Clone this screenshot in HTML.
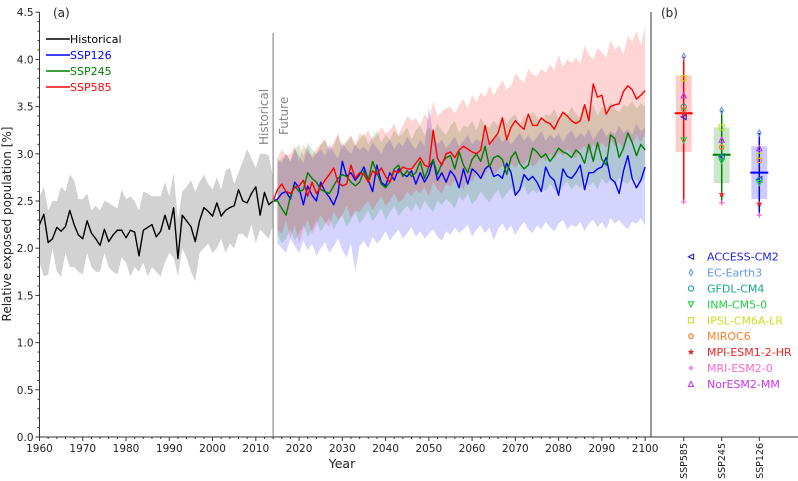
<!DOCTYPE html>
<html><head><meta charset="utf-8">
<style>
html,body{margin:0;padding:0;background:#fff;}
svg{display:block;font-family:"DejaVu Sans","Liberation Sans",sans-serif;}
</style></head>
<body>
<svg id="chart" width="798" height="481" viewBox="0 0 798 481" xmlns="http://www.w3.org/2000/svg">
<g id="gA"></g>
<g id="gB"></g>
</svg>
<script>
// ---------------- data ----------------
const histYears0 = 1960;
const histMean = [2.25,2.36,2.06,2.10,2.22,2.18,2.23,2.40,2.25,2.14,2.10,2.29,2.16,2.10,2.03,2.20,2.07,2.14,2.19,2.19,2.11,2.19,2.17,1.92,2.19,2.22,2.25,2.12,2.18,2.35,2.20,2.43,1.89,2.35,2.29,2.23,2.07,2.29,2.43,2.39,2.34,2.48,2.34,2.40,2.43,2.45,2.62,2.50,2.48,2.58,2.65,2.35,2.59,2.46,2.50];
const histUpper = [2.55,2.65,2.40,2.50,2.50,2.65,2.60,2.78,2.72,2.52,2.52,2.58,2.40,2.45,2.40,2.50,2.48,2.45,2.42,2.62,2.52,2.55,2.50,2.40,2.60,2.58,2.55,2.55,2.55,2.70,2.55,2.80,2.30,2.60,2.65,2.72,2.60,2.70,2.78,2.68,2.62,2.75,2.62,2.82,2.85,2.68,2.80,2.92,3.05,2.95,2.85,3.00,3.00,2.98,2.75];
const histLower = [1.85,1.70,1.72,2.00,1.75,1.70,1.95,1.80,1.80,1.75,1.72,1.95,1.80,1.75,1.75,1.95,1.80,1.75,1.72,1.90,1.85,1.70,1.80,1.75,1.85,1.70,1.80,1.75,1.70,1.85,1.95,1.90,1.70,2.00,1.90,1.75,1.65,1.95,2.00,2.05,1.95,2.00,2.10,1.95,2.05,2.00,2.15,2.15,2.10,2.25,2.05,2.20,2.15,2.10,2.25];

const futYears0 = 2015;
const ssp585Mean = [2.62,2.68,2.60,2.58,2.64,2.66,2.72,2.55,2.70,2.58,2.65,2.72,2.78,2.85,2.70,2.66,2.68,2.88,2.74,2.80,2.78,2.70,2.82,2.78,2.85,2.76,2.70,2.82,2.80,2.86,2.84,2.84,2.90,2.96,2.88,2.86,3.25,2.95,2.88,3.00,3.02,2.96,3.04,3.08,3.05,3.02,3.00,3.04,3.30,3.10,3.16,3.22,3.38,3.15,3.28,3.35,3.30,3.26,3.42,3.30,3.30,3.38,3.34,3.32,3.26,3.36,3.44,3.40,3.35,3.32,3.35,3.52,3.35,3.74,3.60,3.62,3.42,3.50,3.52,3.53,3.66,3.72,3.68,3.58,3.62,3.67];
const ssp585Upper = [2.95,3.05,2.98,3.00,3.08,2.92,3.10,3.02,2.98,3.05,3.10,3.15,3.05,3.12,3.22,3.08,3.14,3.20,3.10,3.22,3.18,3.25,3.15,3.20,3.28,3.22,3.25,3.32,3.20,3.30,3.40,3.35,3.38,3.30,3.42,3.36,3.55,3.40,3.45,3.48,3.50,3.42,3.52,3.58,3.48,3.62,3.55,3.65,3.60,3.72,3.62,3.70,3.78,3.68,3.72,3.85,3.80,3.75,3.90,3.84,3.82,3.90,3.86,3.95,3.88,4.05,3.92,4.00,3.96,4.02,3.95,4.15,4.05,4.00,4.12,4.08,4.02,4.20,4.10,4.15,4.05,4.25,4.18,4.30,4.15,4.35];
const ssp585Lower = [2.20,2.15,2.30,2.10,2.25,2.05,2.20,2.30,2.15,2.25,2.35,2.28,2.22,2.40,2.30,2.35,2.45,2.32,2.40,2.38,2.45,2.50,2.40,2.48,2.55,2.45,2.50,2.58,2.48,2.52,2.60,2.55,2.62,2.58,2.65,2.55,2.70,2.62,2.58,2.68,2.65,2.72,2.68,2.62,2.75,2.70,2.80,2.72,2.78,2.85,2.78,2.82,2.88,2.80,2.90,2.85,2.92,2.88,2.95,2.86,2.90,2.98,2.92,3.00,2.95,3.02,2.98,3.05,3.00,2.95,3.05,3.08,3.00,3.10,3.04,3.12,3.06,3.15,3.08,3.12,3.05,3.18,3.10,3.20,3.12,3.22];

const ssp245Mean = [2.50,2.42,2.35,2.55,2.66,2.60,2.62,2.80,2.74,2.70,2.62,2.60,2.58,2.66,2.74,2.78,2.76,2.70,2.66,2.70,2.82,2.72,2.92,2.80,2.68,2.64,2.70,2.84,2.88,2.76,2.82,2.76,2.80,2.92,2.74,2.86,2.94,2.78,2.90,2.96,2.98,2.84,3.02,2.88,2.80,2.94,3.00,2.92,3.08,2.86,2.96,2.98,2.94,2.78,2.96,3.02,2.90,2.84,2.88,3.06,3.02,2.96,3.00,2.92,2.98,3.06,3.02,3.00,2.96,3.04,3.00,2.90,3.10,2.92,3.12,2.94,2.88,3.20,3.16,2.96,3.06,3.22,3.12,2.98,3.10,3.04];
const ssp245Upper = [2.90,2.95,3.00,2.92,3.05,3.10,2.98,3.12,3.05,3.00,3.10,3.15,3.02,3.08,3.20,3.05,3.12,3.18,3.08,3.15,3.22,3.10,3.18,3.25,3.12,3.20,3.15,3.25,3.18,3.22,3.28,3.15,3.25,3.30,3.20,3.28,3.22,3.32,3.25,3.20,3.30,3.35,3.22,3.30,3.28,3.35,3.25,3.38,3.30,3.28,3.35,3.30,3.40,3.32,3.38,3.42,3.30,3.40,3.35,3.45,3.38,3.32,3.42,3.40,3.48,3.36,3.44,3.40,3.50,3.42,3.38,3.48,3.45,3.52,3.40,3.50,3.46,3.55,3.48,3.44,3.52,3.50,3.56,3.48,3.54,3.50];
const ssp245Lower = [2.15,2.05,2.10,2.20,2.08,2.15,2.25,2.12,2.20,2.30,2.18,2.25,2.32,2.20,2.28,2.35,2.22,2.30,2.38,2.26,2.32,2.40,2.28,2.35,2.42,2.30,2.38,2.45,2.34,2.40,2.45,2.38,2.48,2.40,2.50,2.44,2.38,2.50,2.46,2.52,2.48,2.42,2.55,2.50,2.58,2.46,2.52,2.60,2.54,2.48,2.56,2.62,2.52,2.58,2.64,2.55,2.60,2.66,2.56,2.62,2.58,2.65,2.60,2.68,2.62,2.58,2.66,2.70,2.62,2.68,2.64,2.72,2.66,2.70,2.62,2.74,2.68,2.72,2.66,2.75,2.70,2.68,2.76,2.72,2.70,2.74];

const ssp126Mean = [2.52,2.58,2.60,2.52,2.70,2.64,2.46,2.66,2.56,2.50,2.70,2.60,2.54,2.46,2.58,2.92,2.76,2.80,2.72,2.78,2.86,2.72,2.60,2.88,2.70,2.66,2.80,2.72,2.84,2.78,2.76,2.82,2.68,2.80,2.70,2.78,2.94,2.72,2.80,2.70,2.82,2.76,2.64,2.84,2.68,2.84,2.80,2.74,2.84,2.88,2.76,2.78,2.74,2.90,2.80,2.56,2.62,2.78,2.72,2.76,2.70,2.60,2.86,2.76,2.72,2.56,2.84,2.76,2.74,2.80,2.88,2.62,2.80,2.80,2.84,2.86,2.96,2.74,2.70,2.58,2.82,2.98,2.74,2.64,2.72,2.86];
const ssp126Upper = [2.95,2.90,3.00,2.92,3.05,2.98,2.90,3.08,2.95,3.00,3.05,2.98,3.10,3.02,2.95,3.12,3.05,3.00,3.10,3.04,3.08,3.02,3.12,3.06,3.00,3.10,3.15,3.05,3.12,3.08,3.18,3.10,3.05,3.15,3.08,3.50,3.20,3.10,3.15,3.06,3.12,3.18,3.08,3.14,3.20,3.10,3.16,3.12,3.22,3.08,3.15,3.20,3.12,3.18,3.10,3.16,3.22,3.14,3.20,3.12,3.18,3.24,3.14,3.20,3.16,3.22,3.12,3.20,3.25,3.16,3.22,3.18,3.26,3.15,3.22,3.28,3.18,3.24,3.20,3.30,3.22,3.26,3.20,3.32,3.24,3.28];
const ssp126Lower = [2.05,2.00,1.95,2.10,2.02,1.95,2.08,1.98,2.05,1.92,2.00,2.06,1.95,2.02,2.10,1.98,1.90,2.05,1.75,2.02,2.08,2.00,2.12,2.05,2.10,2.18,2.08,2.14,2.20,2.10,2.16,2.22,2.12,2.18,2.10,2.15,2.20,2.12,2.08,2.18,2.14,2.22,2.16,2.20,2.25,2.12,2.20,2.24,2.16,2.22,2.08,2.20,2.26,2.18,2.24,2.14,2.22,2.28,2.20,2.16,2.24,2.20,2.28,2.22,2.18,2.26,2.30,2.20,2.25,2.22,2.28,2.18,2.26,2.30,2.22,2.28,2.20,2.32,2.26,2.30,2.24,2.20,2.28,2.26,2.32,2.24];

const xTickLabels = [1960,1970,1980,1990,2000,2010,2020,2030,2040,2050,2060,2070,2080,2090,2100];
const yTickLabels = [0.0,0.5,1.0,1.5,2.0,2.5,3.0,3.5,4.0,4.5];

// panel b
const scenarios = ["SSP585","SSP245","SSP126"];
const boxWhiskerLow = [2.49,2.48,2.35];
const boxQ1 = [3.02,2.69,2.52];
const boxMedian = [3.43,2.99,2.80];
const boxQ3 = [3.83,3.28,3.08];
const boxWhiskerHigh = [4.03,3.46,3.22];
const models = ["ACCESS-CM2","EC-Earth3","GFDL-CM4","INM-CM5-0","IPSL-CM6A-LR","MIROC6","MPI-ESM1-2-HR","MRI-ESM2-0","NorESM2-MM"];
const modelSSP585 = [3.39,4.03,3.50,3.14,3.80,3.47,3.42,2.49,3.62];
const modelSSP245 = [2.97,3.46,2.96,2.92,3.28,3.07,2.57,2.48,3.15];
const modelSSP126 = [2.73,3.22,2.72,2.69,2.98,2.93,2.47,2.35,3.06];
</script>
<script>
const NS = "http://www.w3.org/2000/svg";
const gA = document.getElementById('gA');
const gB = document.getElementById('gB');
function mk(parent, tag, attrs, text){
  const e = document.createElementNS(NS, tag);
  for (const k in attrs) e.setAttribute(k, attrs[k]);
  if (text !== undefined) e.textContent = text;
  parent.appendChild(e);
  return e;
}
const X0 = 39.5, XPY = 4.326, Y0 = 437, YPU = 94.4;
const xs = yr => X0 + (yr - 1960) * XPY;
const ys = v => Y0 - v * YPU;

function band(up, lo, yr0, fill, name){
  let d = '';
  up.forEach((v,i)=>{ d += (i? 'L':'M') + xs(yr0+i).toFixed(2) + ',' + ys(v).toFixed(2); });
  for (let i = lo.length-1; i >= 0; i--) d += 'L' + xs(yr0+i).toFixed(2) + ',' + ys(lo[i]).toFixed(2);
  const p = mk(gA, 'path', {d: d+'Z', fill: fill, stroke: 'none'});
  
  
}
function line(vals, yr0, color, name, prefix){
  let pts = prefix ? [prefix] : [];
  vals.forEach((v,i)=> pts.push(xs(yr0+i).toFixed(2)+','+ys(v).toFixed(2)));
  const p = mk(gA, 'polyline', {points: pts.join(' '), fill:'none', stroke:color, 'stroke-width':1.4, 'stroke-linejoin':'round'});
  
  
}
band(histUpper, histLower, histYears0, 'rgba(180,180,180,0.6)', 'historical-band');
band(ssp126Upper, ssp126Lower, futYears0, 'rgba(0,0,255,0.17)', 'ssp126-band');
band(ssp245Upper, ssp245Lower, futYears0, 'rgba(0,128,0,0.17)', 'ssp245-band');
band(ssp585Upper, ssp585Lower, futYears0, 'rgba(255,0,0,0.17)', 'ssp585-band');
const lastHist = xs(histYears0+histMean.length-1).toFixed(2)+','+ys(histMean[histMean.length-1]).toFixed(2);
line(histMean, histYears0, '#000', 'historical-line');
line(ssp126Mean, futYears0, '#0000ff', 'ssp126-line', lastHist);
line(ssp245Mean, futYears0, '#008000', 'ssp245-line', lastHist);
line(ssp585Mean, futYears0, '#ff0000', 'ssp585-line', lastHist);

// divider
const dv = mk(gA,'line',{x1:xs(2014),x2:xs(2014),y1:33,y2:Y0,stroke:'#777','stroke-width':1});


const th = mk(gA,'text',{transform:`translate(${xs(2014)-5},145) rotate(-90)`,'font-size':12,fill:'#888'},'Historical');
 
const tf = mk(gA,'text',{transform:`translate(${xs(2014)+15},135) rotate(-90)`,'font-size':12,fill:'#888'},'Future');
 

// axes
const ax = mk(gA,'path',{d:`M${X0},12 L${X0},${Y0} L651,${Y0}`,fill:'none',stroke:'#333','stroke-width':1});
 
for (let yr = 1960; yr <= 2100; yr += 2){
  const major = yr % 10 === 0;
  mk(gA,'line',{x1:xs(yr),x2:xs(yr),y1:Y0,y2:Y0+(major?4:2),stroke:'#333','stroke-width':1});
}
xTickLabels.forEach(v=>{
  const t = mk(gA,'text',{x:xs(v),y:Y0+15,'text-anchor':'middle','font-size':10.5,fill:'#222'},String(v));
   
});
for (let k = 0; k <= 45; k++){
  const major = k % 5 === 0;
  mk(gA,'line',{x1:X0,x2:X0-(major?4:2),y1:ys(k/10),y2:ys(k/10),stroke:'#333','stroke-width':1});
}
yTickLabels.forEach(v=>{
  const t = mk(gA,'text',{x:X0-6,y:ys(v)+4,'text-anchor':'end','font-size':10.5,fill:'#222'},v.toFixed(1));
   
});
const xt = mk(gA,'text',{x:342,y:468,'text-anchor':'middle','font-size':12.5,fill:'#222'},'Year');
 
const yt = mk(gA,'text',{transform:'translate(11,224) rotate(-90)','text-anchor':'middle','font-size':12,fill:'#222'},'Relative exposed population [%]');
 
const pa = mk(gA,'text',{x:53,y:17,'font-size':12,fill:'#222'},'(a)');
 

// legend a
const legA = [['Historical','#000','#000'],['SSP126','#0000ff','#0000ff'],['SSP245','#008000','#008000'],['SSP585','#ff0000','#ff0000']];
legA.forEach((L,i)=>{
  const y = 39 + i*16;
  const g = mk(gA,'g',{});
  
  
  mk(g,'line',{x1:46,x2:70,y1:y,y2:y,stroke:L[1],'stroke-width':1.5});
  mk(g,'text',{x:70,y:y+4,'font-size':11,fill:L[2]},L[0]);
});

// ---------------- panel b ----------------
const axb = mk(gB,'path',{d:`M651,12 L651,${Y0} L798,${Y0}`,fill:'none',stroke:'#333','stroke-width':1});
 
const pb = mk(gB,'text',{x:661,y:17,'font-size':12,fill:'#222'},'(b)');
 
const bx = [683.7, 721.7, 759.3];
const bcol = ['#ff0000','#008000','#0000ff'];
const bfill = ['rgba(255,0,0,0.2)','rgba(0,128,0,0.2)','rgba(0,0,255,0.2)'];
const mcol = ['#2424d8','#6495ed','#17a589','#22cc44','#ccdd22','#ff7f27','#ee2222','#ff66cc','#cc33ee'];
const modelVals = [modelSSP585, modelSSP245, modelSSP126];

function marker(g, k, cx, cy, s){
  const c = mcol[k], st = {fill:'none',stroke:c,'stroke-width':1.1};
  let e;
  if (k===0) e = mk(g,'polygon',Object.assign({points:`${cx-s},${cy} ${cx+s},${cy-s} ${cx+s},${cy+s}`},st));
  else if (k===1) e = mk(g,'polygon',Object.assign({points:`${cx},${cy-s*1.2} ${cx+s*0.7},${cy} ${cx},${cy+s*1.2} ${cx-s*0.7},${cy}`},st));
  else if (k===2) e = mk(g,'circle',Object.assign({cx:cx,cy:cy,r:s},st));
  else if (k===3) e = mk(g,'polygon',Object.assign({points:`${cx-s},${cy-s} ${cx+s},${cy-s} ${cx},${cy+s}`},st));
  else if (k===4) e = mk(g,'rect',Object.assign({x:cx-s,y:cy-s,width:2*s,height:2*s},st));
  else if (k===5){ let p=[]; for(let j=0;j<5;j++){const a=-Math.PI/2+j*2*Math.PI/5;p.push((cx+s*Math.cos(a)).toFixed(2)+','+(cy+s*Math.sin(a)).toFixed(2));} e = mk(g,'polygon',Object.assign({points:p.join(' ')},st)); }
  else if (k===6){ let p=[]; for(let j=0;j<10;j++){const a=-Math.PI/2+j*Math.PI/5;const r=j%2?s*0.45:s*1.1;p.push((cx+r*Math.cos(a)).toFixed(2)+','+(cy+r*Math.sin(a)).toFixed(2));} e = mk(g,'polygon',{points:p.join(' '),fill:c,stroke:c,'stroke-width':0.5}); }
  else if (k===7) e = mk(g,'path',{d:`M${cx-s},${cy}H${cx+s}M${cx},${cy-s}V${cy+s}`,stroke:c,'stroke-width':1.2,fill:'none'});
  else e = mk(g,'polygon',Object.assign({points:`${cx-s},${cy+s} ${cx+s},${cy+s} ${cx},${cy-s}`},st));
  return e;
}

scenarios.forEach((sc,i)=>{
  const g = mk(gB,'g',{});
  
  
  const x = bx[i];
  mk(g,'line',{x1:x,x2:x,y1:ys(boxWhiskerHigh[i]),y2:ys(boxWhiskerLow[i]),stroke:bcol[i],'stroke-width':1.5});
  mk(g,'rect',{x:x-8,y:ys(boxQ3[i]),width:16,height:ys(boxQ1[i])-ys(boxQ3[i]),fill:bfill[i],stroke:'none'});
  mk(g,'line',{x1:x-9,x2:x+9,y1:ys(boxMedian[i]),y2:ys(boxMedian[i]),stroke:bcol[i],'stroke-width':2});
  modelVals[i].forEach((v,k)=>{
    const m = marker(g,k,x,ys(v),2.6);
    
    
  });
  mk(gB,'line',{x1:x,x2:x,y1:Y0,y2:Y0+4,stroke:'#333','stroke-width':1});
  const t = mk(gB,'text',{transform:`translate(${x+3.5},${Y0+6}) rotate(-90)`,'text-anchor':'end','font-size':9.5,fill:'#222'},sc);
   
});

models.forEach((m,k)=>{
  const y = 256.7 + k*15.9;
  const g = mk(gB,'g',{});
  
  
  marker(g,k,691,y,2.6);
  mk(g,'text',{x:707,y:y+4,'font-size':11,fill:mcol[k]},m);
});
</script>
</body></html>
